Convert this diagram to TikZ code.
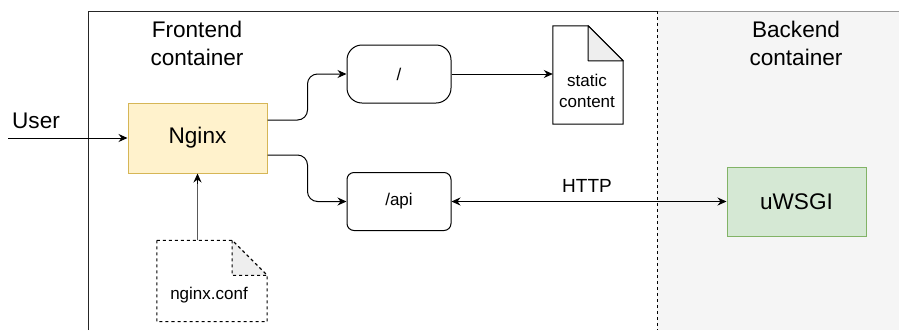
\documentclass[tikz,border=0pt]{standalone}
\usepackage{fontspec}
\setmainfont{Liberation Sans}
\usetikzlibrary{arrows.meta,calc}
\definecolor{nginxfill}{HTML}{FFF2CC}
\definecolor{nginxdraw}{HTML}{D6B656}
\definecolor{uwsgifill}{HTML}{D5E8D4}
\definecolor{uwsgidraw}{HTML}{82B366}
\definecolor{backfill}{HTML}{F5F5F5}
\definecolor{backdraw}{HTML}{999999}
\definecolor{foldfill}{HTML}{EEEEEE}
\tikzset{
  big/.style={font=\fontsize{22.6}{28}\selectfont},
  small/.style={font=\fontsize{17}{21}\selectfont},
  arr/.style={line width=1pt,-{Stealth[length=9pt,width=8pt,inset=3pt]}},
  darr/.style={line width=1pt,{Stealth[length=9pt,width=8pt,inset=3pt]}-{Stealth[length=9pt,width=8pt,inset=3pt]}},
  procbox/.style={draw=nginxdraw,fill=nginxfill,line width=1pt,minimum width=139pt,minimum height=70pt,inner sep=0pt,big},
  routebox/.style={draw,line width=1pt,minimum width=104pt,minimum height=58pt,inner sep=0pt,small},
  docbox/.style={minimum width=70pt,minimum height=98pt,inner sep=0pt}
}
\begin{document}
\begin{tikzpicture}[x=1pt,y=-1pt]
\useasboundingbox (0,0) rectangle (899,330);
% containers
\fill[backfill] (657,11) rectangle (899,330);
\draw[backdraw,line width=1pt] (657,11) -- (899,11);
\draw[black!85,line width=1pt] (88,330) -- (88,11) -- (657,11);
\draw[line width=0.8pt,dash pattern=on 3pt off 3pt] (657,11) -- (657,330);
\node[big,align=center] (flabel) at (197,43) {Frontend\\container};
\node[big,align=center] (blabel) at (796,43) {Backend\\container};
% user
\node[big] (user) at (36,121) {User};
\coordinate (userstart) at (8,138);
% nodes
\node[procbox] (ng) at (197.5,138) {Nginx};
\node[routebox,rounded corners=15pt] (root) at (399,74) {/};
\node[routebox,rounded corners=7pt] (api) at (399,201.5) {/api};
\node[draw=uwsgidraw,fill=uwsgifill,line width=1pt,minimum width=139pt,minimum height=69pt,inner sep=0pt,big] (uw) at (796.5,201.5) {uWSGI};
% static content doc
\node[docbox] (sdoc) at (588,75) {};
\draw[line width=1pt,fill=white] (sdoc.north west) -- ([xshift=-35pt]sdoc.north east) -- ([yshift=-35pt]sdoc.north east) -- (sdoc.south east) -- (sdoc.south west) -- cycle;
\draw[line width=1pt,fill=foldfill,line join=round] ([xshift=-35pt]sdoc.north east) -- ([xshift=-35pt,yshift=-35pt]sdoc.north east) -- ([yshift=-35pt]sdoc.north east) -- cycle;
\node[small,align=center] (stext) at (587,90.5) {static\\content};
% nginx.conf doc
\node[docbox,minimum width=110pt,minimum height=81pt] (cdoc) at (212,281) {};
\draw[line width=1pt,dash pattern=on 3pt off 3pt,fill=white] (cdoc.north west) -- ([xshift=-35pt]cdoc.north east) -- ([yshift=-35pt]cdoc.north east) -- (cdoc.south east) -- (cdoc.south west) -- cycle;
\draw[line width=1pt,dash pattern=on 3pt off 3pt,fill=foldfill] ([xshift=-35pt]cdoc.north east) -- ([xshift=-35pt,yshift=-35pt]cdoc.north east) -- ([yshift=-35pt]cdoc.north east) -- cycle;
\node[small] (ctext) at (209,295) {nginx.conf};
% connectors
\draw[arr] (userstart) -- (ng.west);
\draw[arr,rounded corners=10pt] ([yshift=18pt]ng.east) -- ++(40,0) |- (root.west);
\draw[arr,rounded corners=10pt] ([yshift=-17pt]ng.east) -- ++(40,0) |- (api.west);
\draw[arr] (root.east) -- (sdoc.west |- root.east);
\draw[darr] (api.east) -- (uw.west);
\node[font=\fontsize{19}{22}\selectfont] (http) at (587,186) {HTTP};
\draw[line width=1pt,black!65] (cdoc.north -| ng.south) -- ([yshift=-8pt]ng.south);
\draw[arr] ([yshift=-10pt]ng.south) -- (ng.south);
\end{tikzpicture}
\end{document}
